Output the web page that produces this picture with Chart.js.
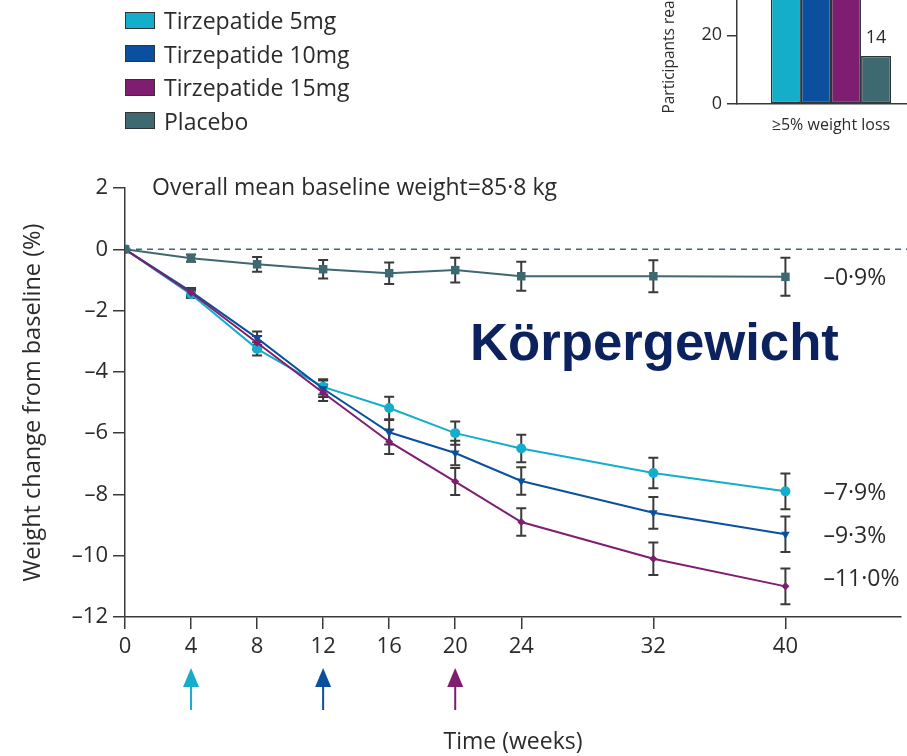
<!DOCTYPE html>
<html>
<head>
<meta charset="utf-8">
<script src="https://cdn.jsdelivr.net/npm/chart.js@4"></script>
<style>
  html, body { margin: 0; padding: 0; background: #fff; overflow: hidden; }
  body { position: relative; width: 907px; height: 756px; font-family: "Open Sans", sans-serif; color: #2b2b2b; }
  #mainWrap { position: absolute; left: 0; top: 0; width: 907px; height: 756px; }
  #insetWrap { position: absolute; left: 640px; top: -130px; width: 300px; height: 280px; }
  .legend-row { position: absolute; left: 125px; height: 24px; display: flex; align-items: center; font-size: 23px; line-height: 24px; }
  .legend-row .sw { width: 28px; height: 15px; border: 1.5px solid #333; margin-right: 9px; }
  #brand { position: absolute; left: 470px; top: 316px; font-family: "Liberation Sans", Arial, sans-serif; font-weight: bold; font-size: 52.7px; line-height: 52px; color: #0b225f; }
</style>
</head>
<body>
<div id="mainWrap"><canvas id="main"></canvas></div>
<div id="insetWrap"><canvas id="inset"></canvas></div>
<div id="legend"></div>
<div id="brand">Körpergewicht</div>
<script>
// ---- data ----
const weeks = [0, 4, 8, 12, 16, 20, 24, 32, 40];
const xTicks = [0, 4, 8, 12, 16, 20, 24, 32, 40];

const placebo = [0, -0.29, -0.49, -0.65, -0.78, -0.68, -0.88, -0.88, -0.9];
const tzp5 = [0, -1.47, -3.25, -4.49, -5.18, -6.0, -6.5, -7.3, -7.9];
const tzp10 = [0, -1.38, -2.9, -4.55, -5.97, -6.65, -7.56, -8.6, -9.3];
const tzp15 = [0, -1.42, -3.05, -4.68, -6.28, -7.58, -8.9, -10.1, -11.0];

const placeboErr = [0, 0.12, 0.24, 0.3, 0.35, 0.4, 0.47, 0.52, 0.62];
const tzp5Err = [0, 0.12, 0.22, 0.25, 0.37, 0.38, 0.45, 0.5, 0.58];
const tzp10Err = [0, 0.12, 0.22, 0.27, 0.4, 0.4, 0.45, 0.52, 0.58];
const tzp15Err = [0, 0.12, 0.22, 0.27, 0.4, 0.44, 0.45, 0.53, 0.58];

const endLabels = ['–0·9%', '–7·9%', '–9·3%', '–11·0%'];
const arrowWeeks = [4, 12, 20];

const legendNames = ['Tirzepatide 5mg', 'Tirzepatide 10mg', 'Tirzepatide 15mg', 'Placebo'];

// inset: participants reaching >=5% weight loss
const insetCategories = ['≥5% weight loss'];
const inset5 = [67];
const inset10 = [78];
const inset15 = [77];
const insetPlacebo = [14];

// ---- style ----
const FONT = '"Open Sans", sans-serif';
const TEXT = '#2b2b2b';
const AXIS = '#3a3a3a';
const C5 = '#14adca';
const C10 = '#0a509e';
const C15 = '#7f1d70';
const CP = '#3f6970';

const series = [
  { values: placebo, errors: placeboErr, color: CP, style: 'rect', radius: 6, rot: 0, label: endLabels[0] },
  { values: tzp15, errors: tzp15Err, color: C15, style: 'rectRot', radius: 4, rot: 0, label: endLabels[3] },
  { values: tzp10, errors: tzp10Err, color: C10, style: 'triangle', radius: 5, rot: 180, label: endLabels[2] },
  { values: tzp5, errors: tzp5Err, color: C5, style: 'circle', radius: 5, rot: 0, label: endLabels[1] }
];

// legend
const legendColors = [C5, C10, C15, CP];
const legendEl = document.getElementById('legend');
legendNames.forEach((name, i) => {
  const row = document.createElement('div');
  row.className = 'legend-row';
  row.style.top = (8 + i * 33.5) + 'px';
  row.innerHTML = '<div class="sw" style="background:' + legendColors[i] + '"></div><span>' + name + '</span>';
  legendEl.appendChild(row);
});

const minus = v => (v < 0 ? '–' + Math.abs(v) : String(v));

const errorBars = {
  id: 'errorBars',
  beforeDatasetsDraw(chart) {
    const { ctx, chartArea, scales: { x, y } } = chart;
    ctx.save();
    // dashed zero line
    ctx.strokeStyle = CP;
    ctx.lineWidth = 1.5;
    ctx.setLineDash([6, 5]);
    const y0 = y.getPixelForValue(0);
    ctx.beginPath();
    ctx.moveTo(chartArea.left, y0);
    ctx.lineTo(chart.width, y0);
    ctx.stroke();
    ctx.setLineDash([]);
    // error bars
    ctx.strokeStyle = AXIS;
    ctx.lineWidth = 2;
    series.forEach(s => {
      s.values.forEach((v, i) => {
        const e = s.errors[i];
        if (!e) return;
        const px = x.getPixelForValue(weeks[i]);
        const y1 = y.getPixelForValue(v + e);
        const y2 = y.getPixelForValue(v - e);
        ctx.beginPath();
        ctx.moveTo(px, y1); ctx.lineTo(px, y2);
        ctx.moveTo(px - 5, y1); ctx.lineTo(px + 5, y1);
        ctx.moveTo(px - 5, y2); ctx.lineTo(px + 5, y2);
        ctx.stroke();
      });
    });
    ctx.restore();
  },
  afterDraw(chart) {
    const { ctx, chartArea, scales: { x, y } } = chart;
    ctx.save();
    ctx.fillStyle = TEXT;
    ctx.font = '23px ' + FONT;
    ctx.textBaseline = 'middle';
    ctx.textAlign = 'left';
    ctx.fillText('Overall mean baseline weight=85·8 kg', chartArea.left + 27, chartArea.top);

    // end-of-line labels: placebo beside its line, treatments stacked evenly
    const lx = x.getPixelForValue(40) + 38;
    const ends = series.map(s => ({ t: s.label, y: y.getPixelForValue(s.values[s.values.length - 1]) + 2 }))
      .sort((a, b) => a.y - b.y);
    ends.forEach((e, k) => {
      const yy = k === 0 ? e.y : ends[1].y + (k - 1) * 43;
      ctx.fillText(e.t, lx, yy);
    });

    // arrows below the axis
    const arrowColors = [C5, C10, C15];
    arrowWeeks.forEach((w, i) => {
      const px = x.getPixelForValue(w);
      const top = chartArea.bottom + 51;
      ctx.fillStyle = arrowColors[i];
      ctx.strokeStyle = arrowColors[i];
      ctx.beginPath();
      ctx.moveTo(px, top);
      ctx.lineTo(px + 8, top + 19);
      ctx.lineTo(px - 8, top + 19);
      ctx.closePath();
      ctx.fill();
      ctx.lineWidth = 2;
      ctx.beginPath();
      ctx.moveTo(px, top + 18);
      ctx.lineTo(px, top + 42);
      ctx.stroke();
    });
    ctx.restore();
  }
};

new Chart(document.getElementById('main'), {
  type: 'line',
  data: {
    datasets: series.map(s => ({
      data: s.values.map((v, i) => ({ x: weeks[i], y: v })),
      borderColor: s.color,
      backgroundColor: s.color,
      borderWidth: 2,
      pointStyle: s.style,
      pointRadius: s.radius,
      pointRotation: s.rot,
      pointBorderWidth: 0,
      tension: 0
    }))
  },
  options: {
    responsive: true,
    maintainAspectRatio: false,
    animation: false,
    layout: { padding: { left: 0, top: 188, right: 5, bottom: 0 } },
    plugins: { legend: { display: false }, tooltip: { enabled: false } },
    scales: {
      x: {
        type: 'linear',
        min: 0,
        max: 47,
        afterBuildTicks: s => { s.ticks = xTicks.map(v => ({ value: v })); },
        afterFit: s => { s.height = 139; },
        grid: { drawOnChartArea: false, drawTicks: true, tickLength: 12, color: AXIS, lineWidth: 1.5 },
        border: { color: AXIS, width: 1.5 },
        ticks: { color: TEXT, font: { family: FONT, size: 22 }, padding: 5, maxRotation: 0, autoSkip: false },
        title: { display: true, text: 'Time (weeks)', color: TEXT, font: { family: FONT, size: 23 }, padding: { top: 0, bottom: 0 } }
      },
      y: {
        min: -12,
        max: 2,
        afterFit: s => { s.width = 125; },
        grid: { drawOnChartArea: false, drawTicks: true, tickLength: 12, color: AXIS, lineWidth: 1.5 },
        border: { color: AXIS, width: 1.5 },
        ticks: { stepSize: 2, color: TEXT, font: { family: FONT, size: 22 }, padding: 5, callback: v => minus(v) },
        title: { display: true, text: 'Weight change from baseline (%)', color: TEXT, font: { family: FONT, size: 23.5 }, padding: { top: 19, bottom: 0 } }
      }
    }
  },
  plugins: [errorBars]
});

// ---- inset bar chart ----
const barLabels = {
  id: 'barLabels',
  afterDatasetsDraw(chart) {
    const { ctx } = chart;
    ctx.save();
    ctx.fillStyle = TEXT;
    ctx.font = '18px ' + FONT;
    ctx.textAlign = 'center';
    ctx.textBaseline = 'middle';
    chart.data.datasets.forEach((ds, di) => {
      chart.getDatasetMeta(di).data.forEach((bar, i) => {
        ctx.fillText(String(ds.data[i]), bar.x, bar.y - 18);
      });
    });
    ctx.restore();
  }
};

const insetSets = [[inset5, C5], [inset10, C10], [inset15, C15], [insetPlacebo, CP]];
new Chart(document.getElementById('inset'), {
  type: 'bar',
  data: {
    labels: insetCategories,
    datasets: insetSets.map(([vals, col]) => ({
      data: vals,
      backgroundColor: col,
      borderColor: '#2e3538',
      borderWidth: 1.5,
      borderSkipped: false
    }))
  },
  options: {
    responsive: true,
    maintainAspectRatio: false,
    animation: false,
    layout: { padding: { left: 0, top: 28, right: 15, bottom: 0 } },
    plugins: { legend: { display: false }, tooltip: { enabled: false } },
    datasets: { bar: { categoryPercentage: 0.64, barPercentage: 1.0 } },
    scales: {
      x: {
        afterFit: s => { s.height = 46; },
        grid: { display: false, drawTicks: false },
        border: { color: AXIS, width: 1.5 },
        ticks: { color: TEXT, font: { family: FONT, size: 16 }, padding: 12 }
      },
      y: {
        min: 0,
        max: 60,
        afterFit: s => { s.width = 97; },
        grid: { drawOnChartArea: false, drawTicks: true, tickLength: 10, color: AXIS, lineWidth: 1.5 },
        border: { color: AXIS, width: 1.5 },
        ticks: { stepSize: 20, color: TEXT, font: { family: FONT, size: 18 }, padding: 5 },
        title: { display: true, text: 'Participants reaching target (%)', color: TEXT, font: { family: FONT, size: 15.5 }, padding: { top: 20, bottom: 0 } }
      }
    }
  },
  plugins: [barLabels]
});
</script>
</body>
</html>
